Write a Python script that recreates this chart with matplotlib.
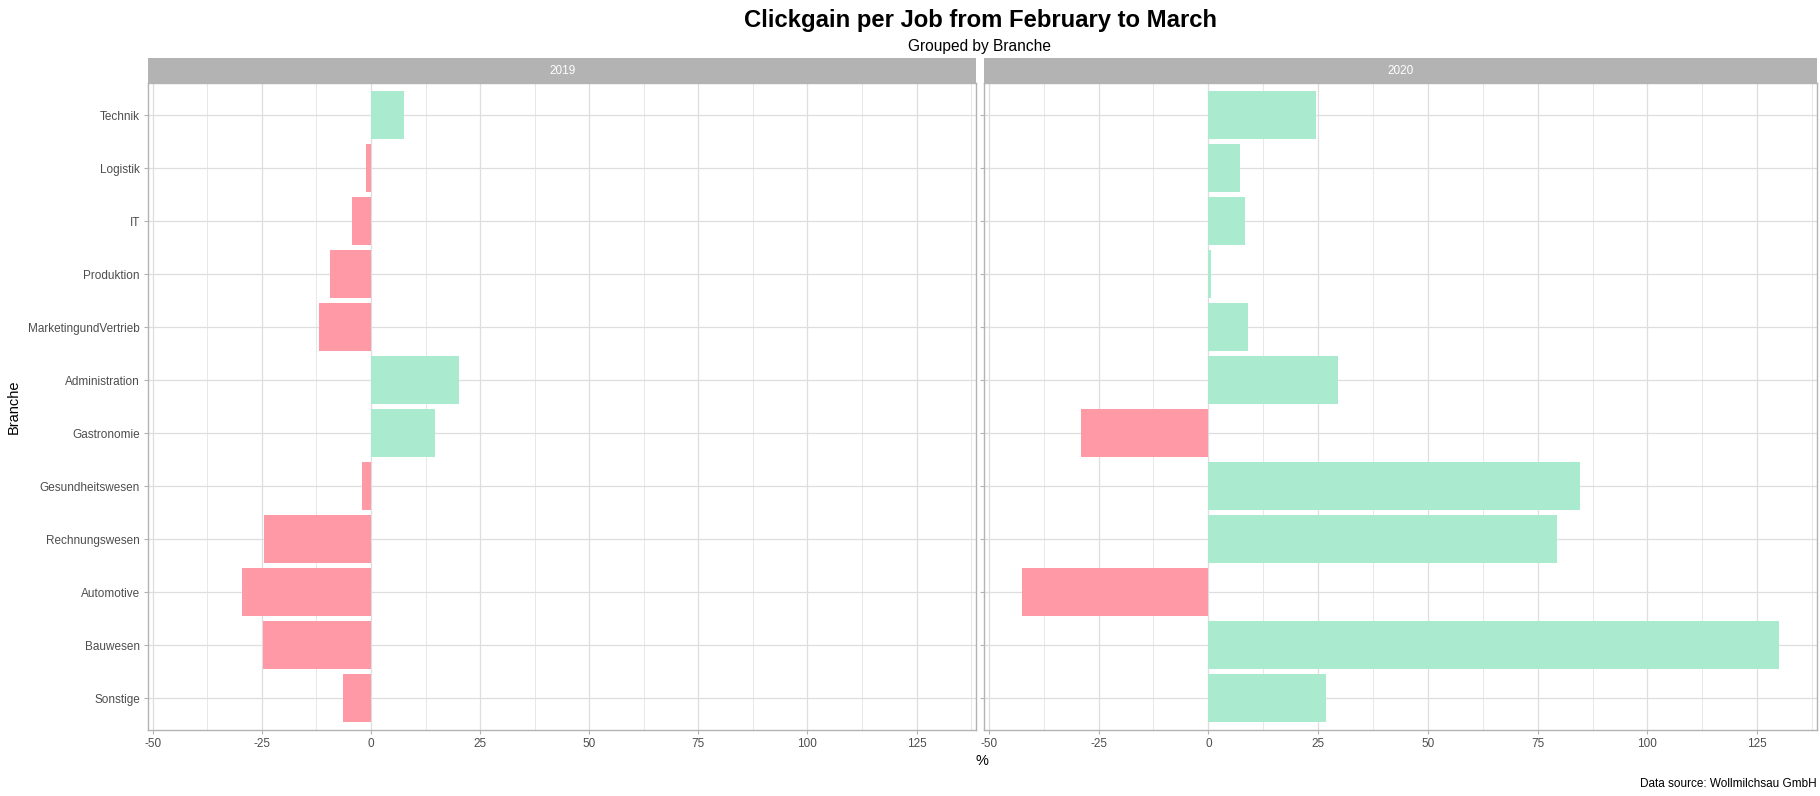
import numpy as np
import matplotlib
matplotlib.use("Agg")
import matplotlib.pyplot as plt
from matplotlib.ticker import MultipleLocator

plt.rcParams['font.family'] = ['Liberation Sans', 'DejaVu Sans']
plt.rcParams['axes.unicode_minus'] = False

# Data
branchen = ["Technik", "Logistik", "IT", "Produktion", "MarketingundVertrieb",
            "Administration", "Gastronomie", "Gesundheitswesen", "Rechnungswesen",
            "Automotive", "Bauwesen", "Sonstige"]
years = ["2019", "2020"]
gain_2019 = [7.6, -1.2, -4.3, -9.5, -11.8, 20.1, 14.6, -2.1, -24.6, -29.5, -24.7, -6.4]
gain_2020 = [24.6, 7.3, 8.4, 0.6, 9.0, 29.5, -28.9, 84.6, 79.4, -42.4, 130.0, 26.9]

W, H = 1820, 796
GREEN = "#AAEBD0"
PINK = "#FF99A6"
GRID = "#DEDEDE"
BORDER = "#B3B3B3"

fig = plt.figure(figsize=(W / 100, H / 100), dpi=100)
fig.patch.set_facecolor("white")

# shared x scale with ggplot-like 5% expansion
all_vals = gain_2019 + gain_2020
lo, hi = min(all_vals), max(all_vals)
pad = (hi - lo) * 0.05
xlim = (lo - pad, hi + pad)

panel_top, panel_bot = 83.3, 730
strip_top = 58.3
panels = [(148.3, 976), (984.3, 1817)]

n = len(branchen)
ypos = np.arange(n)[::-1]

for i, (vals, year) in enumerate(zip([gain_2019, gain_2020], years)):
    x0, x1 = panels[i]
    ax = fig.add_axes([x0 / W, (H - panel_bot) / H, (x1 - x0) / W,
                       (panel_bot - panel_top) / H])
    colors = [GREEN if v >= 0 else PINK for v in vals]
    ax.barh(ypos, vals, height=0.9, color=colors, zorder=2)

    ax.set_xlim(*xlim)
    ax.set_ylim(-0.6, n - 0.4)
    ax.xaxis.set_major_locator(MultipleLocator(25))
    ax.xaxis.set_minor_locator(MultipleLocator(12.5))
    ax.grid(which="major", color=GRID, linewidth=0.9, zorder=0)
    ax.grid(which="minor", axis="x", color=GRID, linewidth=0.5, zorder=0)
    ax.set_axisbelow(True)
    for s in ax.spines.values():
        s.set_color(BORDER)
        s.set_linewidth(1.0)

    ax.set_yticks(ypos)
    if i == 0:
        ax.set_yticklabels(branchen, fontsize=8.5, color="#4D4D4D")
    else:
        ax.set_yticklabels([])
    ax.tick_params(axis="both", which="major", length=3, color=BORDER,
                   labelsize=8.5, labelcolor="#4D4D4D", pad=3)
    ax.tick_params(axis="x", which="minor", length=0)

    # facet strip
    sax = fig.add_axes([x0 / W, (H - panel_top) / H, (x1 - x0) / W,
                        (panel_top - strip_top) / H])
    sax.set_facecolor(BORDER)
    sax.set_xticks([])
    sax.set_yticks([])
    for s in sax.spines.values():
        s.set_visible(False)
    sax.text(0.5, 0.5, year, ha="center", va="center", color="white",
             fontsize=8.5, transform=sax.transAxes)

fig.text(980 / W, 1 - 20 / H, "Clickgain per Job from February to March",
         ha="center", va="center", fontsize=17.2, fontweight="bold")
fig.text(980 / W, 1 - 46 / H, "Grouped by Branche", ha="center", va="center",
         fontsize=11.2)
fig.text(982 / W, 1 - 761 / H, "%", ha="center", va="center", fontsize=10.5)
fig.text(14 / W, 1 - 407 / H, "Branche", ha="center", va="center",
         rotation=90, fontsize=10.5)
fig.text(1817 / W, 1 - 790 / H, "Data source: Wollmilchsau GmbH",
         ha="right", va="bottom", fontsize=8.5)

fig.savefig("out.png", dpi=100)
